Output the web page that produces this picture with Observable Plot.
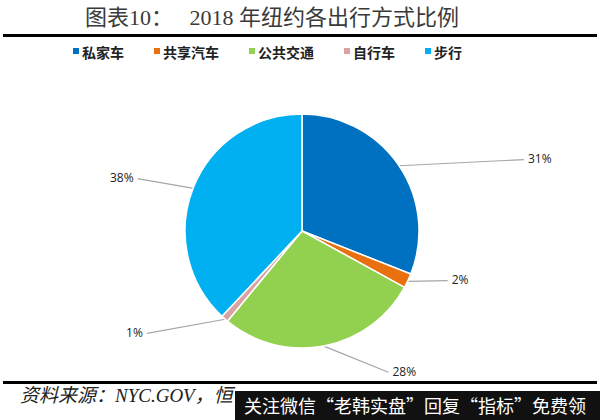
<!DOCTYPE html>
<html>
<head>
<meta charset="utf-8">
<script src="https://cdn.jsdelivr.net/npm/d3@7"></script>
<script src="https://cdn.jsdelivr.net/npm/@observablehq/plot@0.6"></script>
<style>
  html, body { margin: 0; padding: 0; background: #fff; }
  #page { position: relative; width: 600px; height: 420px; overflow: hidden; }
  #title { position: absolute; left: 85px; top: 3px; font-family: "Liberation Serif", "Noto Sans CJK SC", serif; font-size: 22px; color: #3a3a3a; white-space: pre; line-height: 30px; }
  #rule1 { position: absolute; left: 3px; right: 3px; top: 34px; height: 3px; background: #000; }
  #legend { position: absolute; left: 73px; top: 43px; display: flex; gap: 30px; font-family: "Noto Sans CJK SC", sans-serif; font-weight: bold; font-size: 14px; color: #222; line-height: 18px; }
  .item { display: flex; align-items: center; }
  .sw { width: 6px; height: 6px; margin-right: 3px; margin-top: -3px; }
  #chart { position: absolute; left: 0; top: 62px; }
  #rule2 { position: absolute; left: 3px; right: 3px; top: 381px; height: 3px; background: #000; }
  #caption { position: absolute; left: 20px; top: 385px; font-family: "Liberation Serif", "Noto Sans CJK SC", serif; font-style: italic; font-size: 19px; color: #222; white-space: pre; line-height: 22px; }
  #wm { position: absolute; left: 235px; top: 391px; width: 365px; height: 29px; background: #111; color: #fff; font-family: "Noto Sans CJK SC", sans-serif; font-size: 18px; line-height: 29px; padding-left: 9px; box-sizing: border-box; white-space: pre; overflow: hidden; }
</style>
</head>
<body>
<div id="page">
  <div id="title"></div>
  <div id="rule1"></div>
  <div id="legend"></div>
  <div id="chart"></div>
  <div id="rule2"></div>
  <div id="caption"></div>
  <div id="wm"></div>
</div>
<script>
// ---- data ----
const titleText = "图表10：   2018 年纽约各出行方式比例";
const categories = ["私家车", "共享汽车", "公共交通", "自行车", "步行"];
const shares = [31, 2, 28, 1, 38];
const labels = ["31%", "2%", "28%", "1%", "38%"];
const colors = ["#0070C0", "#E8700F", "#92D050", "#D9A3A3", "#00B0F0"];
const captionText = "资料来源：NYC.GOV，恒";
const watermarkText = "关注微信“老韩实盘”回复“指标”免费领";
// label placement (polar: angle in degrees clockwise from 12 o'clock, distance in radii)
const labelAngle = [72, 108.7, 148.6, 236.8, 287.8];
const labelDist = [1.99, 1.31, 1.41, 1.59, 1.48];

// ---- layout constants ----
const W = 600, H = 318, R = 117, CX = 302, CY = 169;

document.getElementById("title").textContent = titleText;
document.getElementById("caption").textContent = captionText;
document.getElementById("wm").textContent = watermarkText;

const legend = document.getElementById("legend");
categories.forEach((c, i) => {
  const it = document.createElement("div");
  it.className = "item";
  const sw = document.createElement("span");
  sw.className = "sw";
  sw.style.background = colors[i];
  const t = document.createElement("span");
  t.textContent = c;
  it.appendChild(sw); it.appendChild(t);
  legend.appendChild(it);
});

const arcs = d3.pie().sort(null).value(d => d)(shares);
const rows = arcs.map((a, i) => {
  const mid = (a.startAngle + a.endAngle) / 2;
  const la = labelAngle[i] * Math.PI / 180;
  return {
    cat: categories[i],
    label: labels[i],
    x1: Math.sin(mid), y1: Math.cos(mid),
    x2: labelDist[i] * Math.sin(la), y2: labelDist[i] * Math.cos(la),
    right: Math.sin(la) > 0
  };
});

function pieMark(index, scales) {
  const cx = scales.x(0), cy = scales.y(0);
  const r = scales.x(1) - scales.x(0);
  const arc = d3.arc().innerRadius(0).outerRadius(r);
  const g = d3.create("svg:g").attr("transform", `translate(${cx},${cy})`);
  g.selectAll("path").data(arcs).join("path")
    .attr("d", arc)
    .attr("fill", (d, i) => colors[i])
    .attr("stroke", "#fff")
    .attr("stroke-width", 1.5)
    .attr("stroke-linejoin", "round");
  return g.node();
}

const chart = Plot.plot({
  width: W, height: H,
  margin: 0,
  x: { domain: [-CX / R, (W - CX) / R], range: [0, W], axis: null },
  y: { domain: [-(H - CY) / R, CY / R], range: [H, 0], axis: null },
  marks: [
    Plot.link(rows, { x1: "x1", y1: "y1", x2: "x2", y2: "y2", stroke: "#a6a6a6", strokeWidth: 1.2 }),
    pieMark,
    Plot.text(rows.filter(d => d.right), { x: "x2", y: "y2", text: "label", textAnchor: "start", dx: 4, fontSize: 12, fill: "#222", fontFamily: "Open Sans, sans-serif" }),
    Plot.text(rows.filter(d => !d.right), { x: "x2", y: "y2", text: "label", textAnchor: "end", dx: -4, fontSize: 12, fill: "#222", fontFamily: "Open Sans, sans-serif" })
  ]
});
document.getElementById("chart").appendChild(chart);
</script>
</body>
</html>
